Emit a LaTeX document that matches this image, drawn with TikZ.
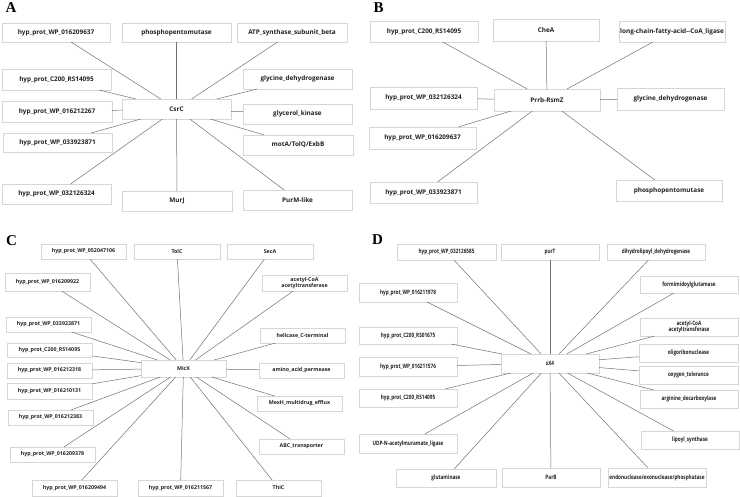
\documentclass[tikz,border=0pt]{standalone}
\usepackage{fontspec}
\setmainfont{Open Sans}
\newfontfamily\lblfont{Liberation Serif}
\newfontfamily\condfont{Open Sans}[FakeStretch=0.78]
\definecolor{boxline}{HTML}{D6D6D6}
\definecolor{edgeline}{HTML}{707070}
\definecolor{txt}{HTML}{222222}
\tikzset{
  box/.style={draw=boxline, line width=0.6pt, fill=white, inner sep=0pt, outer sep=0pt, text=txt, align=center, font=\bfseries\fontsize{6.4}{7}\selectfont},
  smallbox/.style={box, font=\bfseries\fontsize{5.3}{6}\selectfont},
  condbox/.style={box, font=\condfont\bfseries\fontsize{6.0}{6.6}\selectfont},
  link/.style={draw=edgeline, line width=0.5pt},
  panel/.style={font=\lblfont\bfseries\fontsize{15}{15}\selectfont, inner sep=0pt}
}
\newcommand{\bx}[7][box]{\node[#1, minimum width={(#5)-(#3)}, minimum height={(#6)-(#4)}] (#2) at ({((#3)+(#5))/2},{((#4)+(#6))/2}) {#7};}
\begin{document}
\begin{tikzpicture}[x=1pt,y=-1pt]
\useasboundingbox (0,0) rectangle (740,497);
% panel labels
\node[panel] (lA) at (11,8) {A};
\node[panel] (lB) at (378.5,8) {B};
\node[panel] (lC) at (11.5,240.5) {C};
\node[panel] (lD) at (377.5,239.5) {D};
% ---------------- Panel A
\bx{ac}{122}{99}{231}{119}{CsrC}
\bx{a1}{2}{23}{110}{42}{hyp\_prot\_WP\_016209637}
\bx{a2}{122}{23}{231}{42}{phosphopentomutase}
\bx{a3}{237}{23}{347}{42}{ATP\_synthase\_subunit\_beta}
\bx{a4}{2}{69}{111}{90}{hyp\_prot\_C200\_RS14095}
\bx{a5}{243}{69}{352}{89}{glycine\_dehydrogenase}
\bx{a6}{2}{101}{112}{122}{hyp\_prot\_WP\_016212267}
\bx{a7}{243}{104}{352}{124}{glycerol\_kinase}
\bx{a8}{3}{133}{112}{152}{hyp\_prot\_WP\_033923871}
\bx{a9}{243}{135}{353}{155}{motA/TolQ/ExbB}
\bx{a10}{2}{184}{111}{204}{hyp\_prot\_WP\_032126324}
\bx{a11}{122}{191}{232}{211}{MurJ}
\bx{a12}{243}{190}{352}{210}{PurM-like}
\foreach \n in {a1,a2,a3,a4,a5,a6,a7,a8,a9,a10,a11,a12} \draw[link] (ac) -- (\n);
% ---------------- Panel B
\bx{bc}{494}{89}{600}{111}{Prrb-RsmZ}
\bx{b1}{370}{21}{478}{42}{hyp\_prot\_C200\_RS14095}
\bx{b2}{493}{19}{599}{41}{CheA}
\bx{b3}{619}{21}{725}{42}{long-chain-fatty-acid-{}-CoA\_ligase}
\bx{b4}{370}{87}{477}{109}{hyp\_prot\_WP\_032126324}
\bx{b5}{617}{88}{724}{110}{glycine\_dehydrogenase}
\bx{b6}{369}{127}{476}{149}{hyp\_prot\_WP\_016209637}
\bx{b7}{370}{182}{477}{203}{hyp\_prot\_WP\_033923871}
\bx{b8}{616}{180}{722}{201}{phosphopentomutase}
\foreach \n in {b1,b2,b3,b4,b5,b6,b7,b8} \draw[link] (bc) -- (\n);
% ---------------- Panel C
\bx[smallbox]{cc}{141}{360}{226}{377}{MicX}
\bx[smallbox]{c1}{41}{244}{126}{259}{hyp\_prot\_WP\_052047106}
\bx[smallbox]{c2}{134}{244}{220}{259}{TolC}
\bx[smallbox]{c3}{227}{244}{313}{259}{SecA}
\bx[smallbox]{c4}{5}{273}{90}{291}{hyp\_prot\_WP\_016209922}
\bx[smallbox]{c5}{262}{275}{347}{291}{acetyl-CoA\\acetyltransferase}
\bx[smallbox]{c6}{6}{317}{91}{332}{hyp\_prot\_WP\_033923871}
\bx[smallbox]{c7}{260}{328}{345}{343}{helicase\_C-terminal}
\bx[smallbox]{c8}{7}{343}{92}{357}{hyp\_prot\_C200\_RS14095}
\bx[smallbox]{c9}{7}{363}{92}{378}{hyp\_prot\_WP\_016212318}
\bx[smallbox]{c10}{259}{363}{344}{378}{amino\_acid\_permease}
\bx[smallbox]{c11}{7}{383}{92}{399}{hyp\_prot\_WP\_016210131}
\bx[smallbox]{c12}{257}{396}{342}{411}{MexH\_multidrug\_efflux}
\bx[smallbox]{c13}{8}{410}{93}{425}{hyp\_prot\_WP\_016212383}
\bx[smallbox]{c14}{10}{447}{95}{462}{hyp\_prot\_WP\_016209378}
\bx[smallbox]{c15}{259}{439}{344}{454}{ABC\_transporter}
\bx[smallbox]{c16}{32}{480}{117}{496}{hyp\_prot\_WP\_016209494}
\bx[smallbox]{c17}{138}{480}{223}{496}{hyp\_prot\_WP\_016211567}
\bx[smallbox]{c18}{236}{480}{321}{496}{ThiC}
\foreach \n in {c1,c2,c3,c4,c5,c6,c7,c8,c9,c10,c11,c12,c13,c14,c15,c16,c17,c18} \draw[link] (cc) -- (\n);
% ---------------- Panel D
\bx[condbox]{dc}{501}{354}{599}{373}{sX4}
\bx[condbox]{d1}{397}{244}{496}{260}{hyp\_prot\_WP\_032126585}
\bx[condbox]{d2}{501}{244}{599}{260}{purT}
\bx[condbox]{d3}{607}{244}{705}{260}{dihydrolipoyl\_dehydrogenase}
\bx[condbox]{d4}{359}{283}{457}{302}{hyp\_prot\_WP\_016211978}
\bx[condbox]{d5}{640}{276}{738}{293}{formimidoylglutamase}
\bx[condbox]{d6}{359}{327}{457}{344}{hyp\_prot\_C200\_RS01675}
\bx[condbox]{d7}{640}{318}{738}{336}{acetyl-CoA\\acetyltransferase}
\bx[condbox]{d8}{639}{344}{738}{362}{oligoribonuclease}
\bx[condbox]{d9}{359}{357}{457}{376}{hyp\_prot\_WP\_016211576}
\bx[condbox]{d10}{639}{366}{738}{384}{oxygen\_tolerance}
\bx[condbox]{d11}{359}{389}{457}{407}{hyp\_prot\_C200\_RS14095}
\bx[condbox]{d12}{640}{390}{738}{408}{arginine\_decarboxylase}
\bx[condbox]{d13}{359}{434}{457}{453}{UDP-N-acetylmuramate\_ligase}
\bx[condbox]{d14}{641}{431}{739}{449}{lipoyl\_synthase}
\bx[condbox]{d15}{396}{469}{496}{487}{glutaminase}
\bx[condbox]{d16}{502}{468}{600}{487}{ParB}
\bx[condbox]{d17}{608}{468}{706}{487}{endonuclease/exonuclease/phosphatase}
\foreach \n in {d1,d2,d3,d4,d5,d6,d7,d8,d9,d10,d11,d12,d13,d14,d15,d16,d17} \draw[link] (dc) -- (\n);
\end{tikzpicture}
\end{document}
